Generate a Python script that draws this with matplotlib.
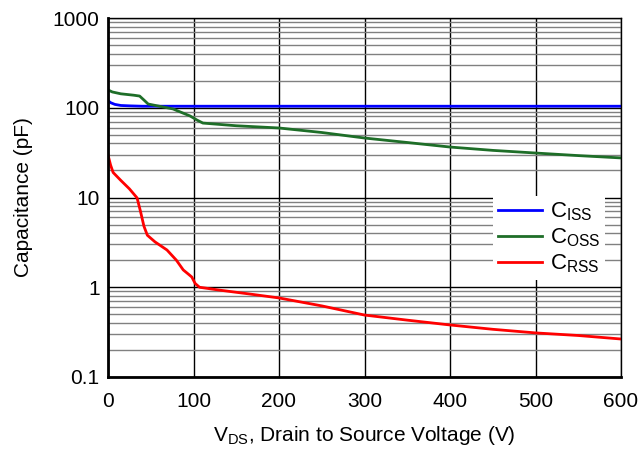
import matplotlib
matplotlib.use("Agg")
import matplotlib.pyplot as plt
from matplotlib.ticker import LogLocator, FixedLocator, NullFormatter

plt.rcParams['font.family'] = ['Liberation Sans', 'DejaVu Sans']

# Data
v_iss = [0, 3, 8, 15, 25, 40, 60, 100, 200, 300, 400, 500, 600]
c_iss = [120, 114, 109, 106, 105, 104, 104, 104, 104, 104, 104, 104, 104]

v_oss = [0, 5, 15, 30, 37, 42, 47, 60, 76, 88, 96, 104, 111, 150, 200, 250, 300, 350, 400, 450, 500, 550, 600]
c_oss = [158, 150, 143, 138, 135, 122, 110, 104, 97, 87, 81, 73, 67.5, 63, 59.5, 53, 46, 41, 36.5, 33.5, 31.3, 29.3, 27.6]

v_rss = [0, 3, 6, 15, 25, 34, 38, 42, 46, 55, 69, 80, 88, 94, 98, 102, 107, 130, 166, 200, 250, 300, 350, 400, 450, 500, 550, 600]
c_rss = [29.8, 23, 19, 15.5, 12.5, 9.9, 7, 4.8, 3.8, 3.2, 2.6, 2.0, 1.56, 1.4, 1.3, 1.1, 1.0, 0.93, 0.84, 0.76, 0.62, 0.49, 0.43, 0.38, 0.34, 0.31, 0.29, 0.265]

x_ticks = [0, 100, 200, 300, 400, 500, 600]
y_ticks = [0.1, 1, 10, 100, 1000]
y_tick_labels = ['0.1', '1', '10', '100', '1000']

fig = plt.figure(figsize=(6.41, 4.51), dpi=100)
ax = fig.add_axes([108/641, 1 - 377/451, (621-108)/641, (377-18)/451])

ax.set_yscale('log')
ax.set_xlim(0, 600)
ax.set_ylim(0.1, 1000)

ax.yaxis.set_major_locator(FixedLocator(y_ticks))
ax.set_yticklabels(y_tick_labels)
ax.yaxis.set_minor_locator(LogLocator(base=10, subs=range(2, 10)))
ax.yaxis.set_minor_formatter(NullFormatter())
ax.set_xticks(x_ticks)

ax.grid(True, which='minor', axis='y', color='#808080', lw=1.0)
ax.grid(True, which='major', axis='y', color='black', lw=1.0)
ax.grid(True, which='major', axis='x', color='black', lw=1.0)
ax.set_axisbelow(True)

ax.plot(v_iss, c_iss, color='#0000ff', lw=2, label='C$_{\\mathregular{ISS}}$')
ax.plot(v_oss, c_oss, color='#1e6e28', lw=2, label='C$_{\\mathregular{OSS}}$')
ax.plot(v_rss, c_rss, color='#ff0000', lw=2, label='C$_{\\mathregular{RSS}}$')

ax.tick_params(which='both', length=0, labelsize=15, colors='black')
ax.tick_params(axis='x', pad=11)
ax.tick_params(axis='y', pad=6)

for s in ['left', 'bottom']:
    ax.spines[s].set_linewidth(2)
for s in ['top', 'right']:
    ax.spines[s].set_linewidth(1)

ax.set_xlabel('V$_{\\mathregular{DS}}$, Drain to Source Voltage (V)', fontsize=15, labelpad=9)
ax.set_ylabel('Capacitance (pF)', fontsize=15, labelpad=14)

leg = ax.legend(loc='lower right', bbox_to_anchor=(0.99, 0.24), fontsize=16,
                frameon=True, fancybox=False, edgecolor='none', facecolor='white',
                framealpha=1, handlelength=2.0, handletextpad=0.35,
                labelspacing=0.15, borderpad=0.2)

fig.savefig('out.png', dpi=100)
